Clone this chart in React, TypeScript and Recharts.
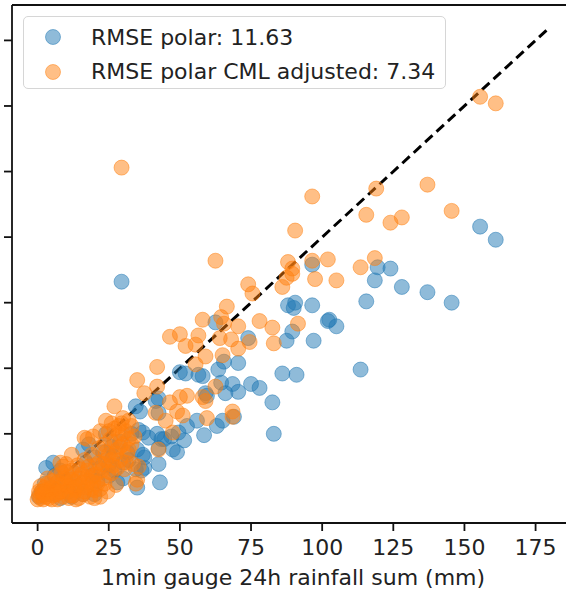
import { Legend, ReferenceLine, Scatter, ScatterChart, XAxis, YAxis } from "recharts"

// 1min gauge 24h sum (x) vs radar estimate (y), mm
const polar: [number, number][] = [
  [155.5, 104], [161, 99], [29.5, 83],
  [96.5, 89.5], [119.5, 88.5], [124, 88], [118.5, 83.5], [128, 81], [137, 79], [145.5, 75], [115.5, 75.5],
  [88, 74], [90.5, 75], [96.5, 74], [102.5, 68.5], [90, 73], [102, 68], [105, 66],
  [62.5, 67.5], [89.5, 64], [87.5, 60.5], [97, 60.5], [74, 61.5],
  [65.5, 52.5], [63.5, 49.5], [70.5, 52],
  [50, 48.5], [52, 48], [56.5, 47.5], [58, 47], [113.5, 49.5], [86, 48], [91, 47.5],
  [64.5, 44.5], [68.5, 44], [70.5, 41], [75, 44], [78, 42.5], [59, 40.5], [66, 40.5], [82.5, 37], [42.5, 38.5],
  [83, 25], [69, 31.5], [56, 30], [63, 28], [65, 30], [58.5, 24.5],
  [34.5, 35.5], [41.5, 37.5], [42.5, 33], [36, 33.5],
  [52.5, 28], [49.5, 25.5], [51.5, 22.5], [47.5, 19], [42.5, 13.5], [37.5, 16], [35, 19], [39, 23.5], [44.5, 23],
  [35, 4.5], [28, 6.5], [25, 9], [3, 12], [5.5, 14], [16, 19], [18, 21], [30, 14], [31.5, 18], [26.5, 16.5],
  [37.5, 12], [36.5, 11], [24, 25], [35.5, 26.5], [37, 25.5], [42, 25], [43.5, 23], [42.5, 19.5], [47, 24],
  [49, 18], [37, 17], [34.5, 11.5], [43, 6.5], [59.5, 39.5],
  [0.5, 1], [1.5, 3], [2.5, 6], [4, 2], [6, 9], [7, 4], [8, 11], [10, 7], [11, 3], [13, 10], [14, 5],
  [17, 14], [19, 9], [20, 16], [21, 7], [22, 12], [23, 18], [26, 20], [27, 11], [29, 22], [30, 8],
  [32, 15], [33, 25], [12, 1], [16, 2], [8, 0.5], [25, 13], [20, 2],
]

const adjusted: [number, number][] = [
  [155.5, 153.5], [161, 151], [29.5, 126.5], [96.5, 115.5], [119, 118.5], [137, 120], [145.5, 110],
  [115.5, 108.5], [124, 105.5], [128, 107.5], [90.5, 102.5],
  [96.5, 91], [102, 91.5], [118.5, 92], [113.5, 88.5], [88, 90.5], [89.5, 86], [86, 81], [97.5, 84],
  [105, 83.5], [89.5, 88], [87.5, 84.5],
  [62.5, 91], [74, 82], [75.5, 78.5], [66.5, 73.5], [58, 68.5], [64.5, 69.5], [65.5, 67], [78, 68],
  [82.5, 65.5], [91.5, 67], [70.5, 66],
  [46.5, 62], [50, 63], [56.5, 62.5], [55.5, 59], [52, 58.5], [64, 61.5], [68, 61], [74.5, 60], [70.5, 57.5],
  [83, 59.5], [59, 54.5], [65, 55], [55.5, 51.5], [42, 50.5], [35, 45.5], [42, 43], [62.5, 43], [37.5, 40.5],
  [50, 39], [52.5, 39.5],
  [27, 35.5], [46.5, 37], [49, 33.5], [51, 32], [68.5, 33.5], [68.5, 31.5], [58, 39], [59, 37.5], [42.5, 19],
  [35.5, 12.5], [35, 7.5], [34.5, 6], [47.5, 25.5], [45, 30], [41.5, 33], [17.5, 23], [19.5, 24], [8, 14],
  [10, 13.5], [16.5, 23.5], [59.5, 31],
  [0, 0], [0.5, 1.5], [1, 0.5], [1.5, 3], [2, 0], [2.5, 4.5], [3, 1], [3.5, 6], [4, 0.5], [4.5, 3], [5, 7],
  [5.5, 1.5], [6, 4], [6.5, 9], [7, 0], [7.5, 2.5], [8, 5.5], [8.5, 10], [9, 1], [9.5, 6], [10, 3],
  [10.5, 8.5], [11, 0.5], [11.5, 5], [12, 11], [12.5, 1.5], [13, 7], [13.5, 3.5], [14, 13], [14.5, 0.5],
  [15, 5.5], [15.5, 9.5], [16, 2], [16.5, 15], [17, 4.5], [17.5, 11], [18, 7], [18.5, 1], [19, 17],
  [19.5, 9], [20, 3.5], [20.5, 13], [21, 6], [21.5, 19.5], [22, 1], [22.5, 11], [23, 8], [23.5, 21],
  [24, 15], [24.5, 3], [25, 17], [25.5, 23], [26, 10], [26.5, 13], [27, 27], [27.5, 5.5], [28, 19],
  [28.5, 25], [29, 15], [29.5, 29], [30, 21], [30.5, 11.5], [31, 26], [31.5, 17], [32, 23], [33, 28],
  [33.5, 13.5], [12, 17], [9, 12.5], [26, 29], [30, 31], [24, 30], [22, 26], [32, 30],
  [0.5, 3], [1, 5], [2, 2], [3, 3.5], [3.5, 8], [5, 0], [5, 4.5], [6.5, 2], [7, 6.5], [8, 3],
  [9, 8], [10, 10.5], [10.5, 5], [11.5, 1.5], [12, 7.5], [13, 4.5], [13.5, 0], [14.5, 8], [15, 11.5],
  [16, 6.5], [16.5, 3], [17.5, 8.5], [18, 12.5], [19, 4], [19.5, 6.5], [20, 0.5], [20.5, 9.5], [21.5, 14],
  [22, 4], [23, 13.5], [23.5, 6], [24, 18], [25, 10.5], [26, 15], [27, 22], [27.5, 17.5], [28, 12],
  [29, 20], [30, 25], [31, 14], [32, 19], [33, 21], [34, 24], [28.5, 28], [25, 26],
]

const ticks = [0, 25, 50, 75, 100, 125, 150, 175]
const oneToOne = [0, 179.5]
const legendLabels = ["RMSE polar: 11.63", "RMSE polar CML adjusted: 7.34"]

const BLUE = "#1f77b4"
const ORANGE = "#ff7f0e"
const FONT = "DejaVu Sans"

const dot = (color: string) => (props: any) => (
  <circle
    cx={props.cx}
    cy={props.cy}
    r={7.5}
    fill={color}
    fillOpacity={0.5}
    stroke={color}
    strokeOpacity={0.5}
    strokeWidth={1}
  />
)

function LegendBox() {
  const colors = [BLUE, ORANGE]
  return (
    <div
      style={{
        position: "relative",
        width: 423,
        height: 73,
        boxSizing: "border-box",
        border: "1.5px solid #d6d6d6",
        borderRadius: 5,
        background: "rgba(255,255,255,0.8)",
        fontFamily: FONT,
        fontSize: 22,
        color: "#222",
      }}
    >
      {legendLabels.map((label, i) => (
        <div key={label} style={{ position: "absolute", left: 0, top: 4 + i * 34.5, height: 32, display: "flex", alignItems: "center" }}>
          <svg width={60} height={32} style={{ display: "block" }}>
            <circle cx={29} cy={16} r={7.5} fill={colors[i]} fillOpacity={0.5} stroke={colors[i]} strokeOpacity={0.5} />
          </svg>
          <span style={{ marginLeft: 7, whiteSpace: "nowrap" }}>{label}</span>
        </div>
      ))}
    </div>
  )
}

export default function App() {
  const toPoints = (pts: [number, number][]) => pts.map(([x, y]) => ({ x, y }))

  return (
    <div style={{ position: "absolute", top: 0, left: 0, width: 566, height: 592, overflow: "hidden", background: "#fff" }}>
      <ScatterChart width={580} height={592} margin={{ top: 5, right: 6, bottom: 0, left: 0 }}>
        <XAxis
          type="number"
          dataKey="x"
          domain={[-9, 188.5]}
          ticks={ticks}
          allowDataOverflow
          height={69}
          tickSize={8}
          tickMargin={8}
          stroke="#111"
          strokeWidth={1.8}
          tick={{ fill: "#222", fontSize: 22, fontFamily: FONT }}
          label={{ value: "1min gauge 24h rainfall sum (mm)", position: "insideBottom", offset: 7, fill: "#222", fontSize: 22, fontFamily: FONT }}
        />
        <YAxis
          type="number"
          dataKey="y"
          domain={[-9, 188.5]}
          ticks={ticks}
          allowDataOverflow
          width={12}
          tickSize={8}
          stroke="#111"
          strokeWidth={1.8}
          tickFormatter={() => ""}
        />
        <ReferenceLine y={188.5} stroke="#111" strokeWidth={1.8} ifOverflow="extendDomain" />
        <Scatter data={toPoints(polar)} shape={dot(BLUE)} isAnimationActive={false} />
        <Scatter data={toPoints(adjusted)} shape={dot(ORANGE)} isAnimationActive={false} />
        <ReferenceLine
          segment={[{ x: oneToOne[0], y: oneToOne[0] }, { x: oneToOne[1], y: oneToOne[1] }]}
          stroke="#000"
          strokeWidth={3}
          strokeDasharray="10 5.5"
        />
        <Legend
          layout="vertical"
          align="center"
          verticalAlign="middle"
          content={() => <LegendBox />}
          wrapperStyle={{ left: 23, top: 16, width: 423, height: 73 }}
        />
      </ScatterChart>
    </div>
  )
}
